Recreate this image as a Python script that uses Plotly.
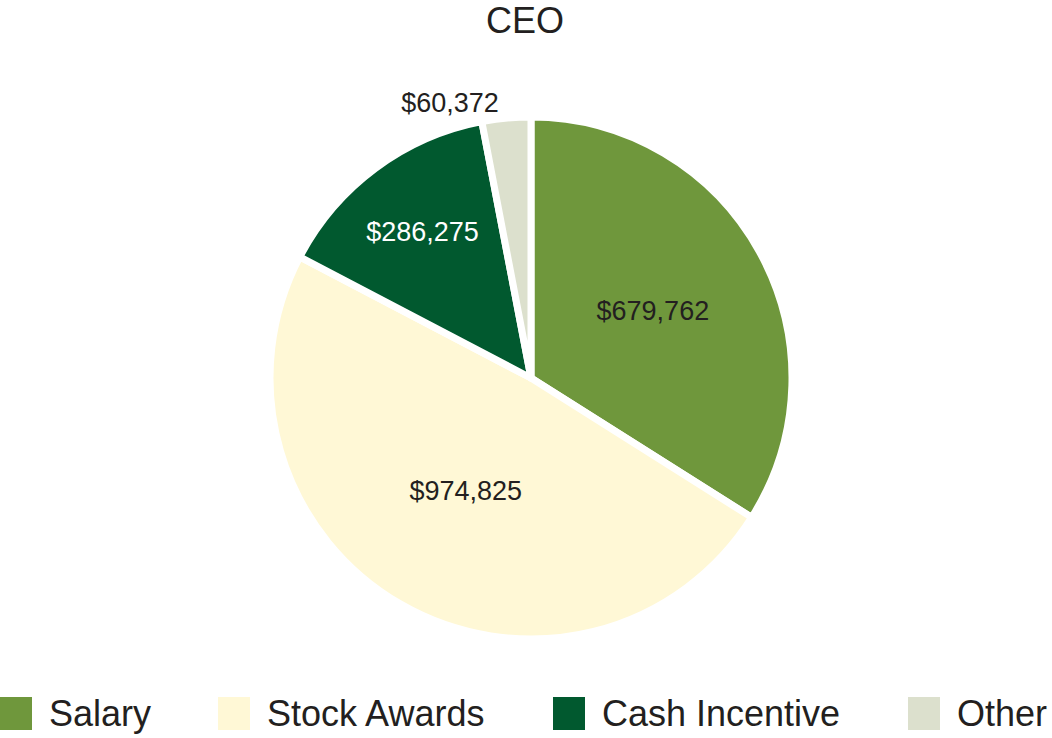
import plotly.graph_objects as go

categories = ["Salary", "Stock Awards", "Cash Incentive", "Other"]
values = [679762, 974825, 286275, 60372]
text_labels = ["$679,762", "$974,825", "$286,275", "$60,372"]
colors = ["#6F973C", "#FFF8D6", "#01592F", "#DCE0CD"]
text_colors = ["#231F20", "#231F20", "#FFFFFF", "#231F20"]
positions = ["inside", "inside", "inside", "outside"]

W, H = 1052, 738
FONT = "Liberation Sans, Arial, sans-serif"

fig = go.Figure()
fig.add_trace(go.Pie(
    labels=categories,
    values=values,
    text=text_labels,
    textinfo="text",
    textposition=positions,
    insidetextorientation="horizontal",
    textfont=dict(family=FONT, size=27, color=text_colors),
    outsidetextfont=dict(family=FONT, size=27, color="#231F20"),
    marker=dict(colors=colors, line=dict(color="white", width=7)),
    sort=False,
    direction="clockwise",
    rotation=0,
    hoverinfo="label+value",
    showlegend=False,
    domain=dict(x=[270 / W, 792 / W], y=[(H - 639) / H, (H - 117) / H]),
))

# Custom legend (large square swatches) built from the category list
legend_x = [0, 218, 553, 908]
sq = 32
y_top, y_bot = 697, 730
shapes = []
annotations = []
for cat, col, x0 in zip(categories, colors, legend_x):
    shapes.append(dict(type="rect", xref="paper", yref="paper",
                       x0=x0 / W, x1=(x0 + sq) / W,
                       y0=(H - y_bot) / H, y1=(H - y_top) / H,
                       fillcolor=col, line=dict(width=0)))
    annotations.append(dict(text=cat, xref="paper", yref="paper",
                            x=(x0 + sq + 15) / W, y=(H - (y_top + y_bot) / 2) / H,
                            xanchor="left", yanchor="middle", showarrow=False,
                            font=dict(family=FONT, size=36, color="#231F20")))

fig.update_layout(
    width=W, height=H,
    margin=dict(l=0, r=0, t=0, b=0),
    paper_bgcolor="white",
    plot_bgcolor="white",
    title=dict(text="CEO", x=525 / W, xanchor="center", y=1 - 20 / H, yanchor="middle",
               font=dict(family=FONT, size=36, color="#231F20")),
    shapes=shapes,
    annotations=annotations,
)

fig.write_html(
    "out.html",
    config={"displayModeBar": False},
    post_script="document.body.style.margin='0';document.body.style.padding='0';document.body.style.overflow='hidden';",
)
